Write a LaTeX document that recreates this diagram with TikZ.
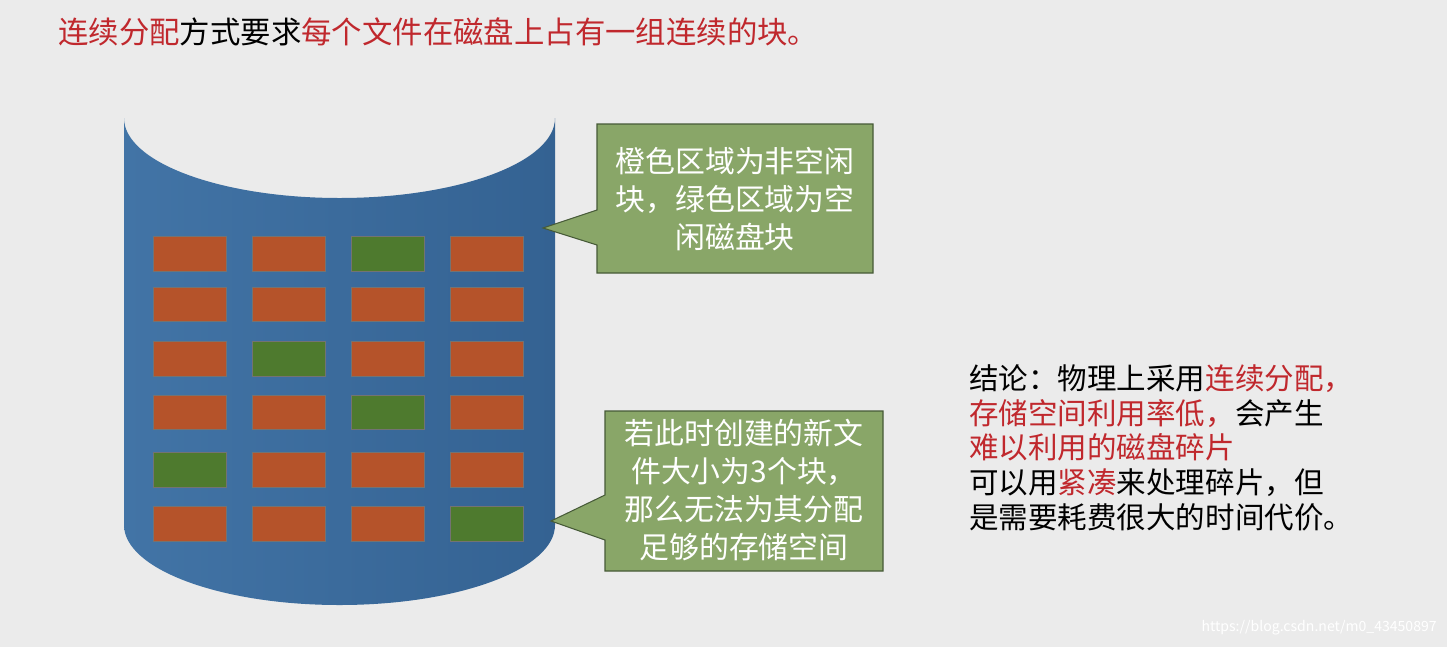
\documentclass[tikz,border=0pt]{standalone}
\usepackage{fontspec}
\setmainfont{Noto Sans CJK SC}
\usetikzlibrary{calc}
\definecolor{bg}{RGB}{235,235,235}
\definecolor{rd}{RGB}{192,40,45}
\definecolor{org}{RGB}{181,83,42}
\definecolor{grn}{RGB}{78,122,46}
\definecolor{cyl1}{RGB}{66,116,166}
\definecolor{cyl2}{RGB}{52,98,146}
\definecolor{call}{RGB}{137,166,104}
\definecolor{callb}{RGB}{70,90,55}
\begin{document}
\begin{tikzpicture}[x=0.02cm,y=-0.02cm,
 txt/.style={font=\fontsize{16.8pt}{22pt}\selectfont,inner sep=0pt},
 ctxt/.style={font=\fontsize{17pt}{21.5pt}\selectfont,text=white,align=center,inner sep=0pt}]
\fill[bg] (0,0) rectangle (1447,647);
\useasboundingbox (0,0) rectangle (1447,647);
% title
\node[txt,anchor=west,font=\fontsize{17.3pt}{22pt}\selectfont] (title) at (58,32) {\textcolor{rd}{连续分配}方式要求\textcolor{rd}{每个文件在磁盘上占有一组连续的块。}};
% cylinder
\shade[left color=cyl1,right color=cyl2]
 (124,118) arc[start angle=180,end angle=360,x radius=215.5,y radius=-80]
 -- (555,525) arc[start angle=0,end angle=-180,x radius=215.5,y radius=-80] -- cycle;
% blocks
\foreach \r/\ya/\yb in {1/236/271,2/287/321,3/341/376,4/395/429,5/452/487,6/506/541}{
 \foreach \xa/\c in {153/1,252/2,351/3,450/4}{
  \pgfmathtruncatemacro{\g}{(\r==1&&\c==3)||(\r==3&&\c==2)||(\r==4&&\c==3)||(\r==5&&\c==1)||(\r==6&&\c==4)}
  \ifnum\g=1 \def\col{grn}\else\def\col{org}\fi
  \filldraw[fill=\col,draw=black!55,line width=0.5pt] (\xa,\ya) rectangle ++(73,\yb-\ya);
 }
}
% callout 1
\draw[fill=call,draw=callb,line width=0.6pt] (597,124) -- (873,124) -- (873,273) -- (597,273) -- (597,245) -- (543,228) -- (597,210) -- cycle;
\node[ctxt] (c1) at (735,199) {橙色区域为非空闲\\块，绿色区域为空\\闲磁盘块};
% callout 2
\draw[fill=call,draw=callb,line width=0.6pt] (605,411) -- (883,411) -- (883,571) -- (605,571) -- (605,540) -- (551,521) -- (605,495) -- cycle;
\node[ctxt] (c2) at (744,490) {若此时创建的新文\\件大小为3个块，\\那么无法为其分配\\足够的存储空间};
% conclusion
\node[txt,anchor=north west,align=left,font=\fontsize{16.8pt}{19.8pt}\selectfont] (con) at (969,364) {结论：物理上采用\textcolor{rd}{连续分配，}\\\textcolor{rd}{存储空间利用率低，}会产生\\\textcolor{rd}{难以利用的磁盘碎片}\\可以用\textcolor{rd}{紧凑}来处理碎片，但\\是需要耗费很大的时间代价。};
\node[anchor=south east,text=white,font=\fontsize{8pt}{9pt}\selectfont,inner sep=0pt] (wm) at (1437,635) {https://blog.csdn.net/m0\_43450897};
\end{tikzpicture}
\end{document}
